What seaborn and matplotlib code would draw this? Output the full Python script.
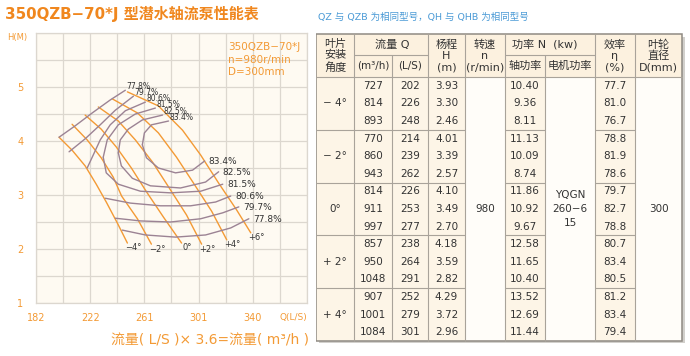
import numpy as np
import matplotlib
matplotlib.use("Agg")
import matplotlib.pyplot as plt
import matplotlib.patches as mpatches
import seaborn as sns

# head curves (Q in L/S, H in m), one per blade angle
angles = ["−4°", "−2°", "0°", "+2°", "+4°", "+6°"]
head_q = [
    [198.8, 208.3, 217.8, 225.9, 233.2, 241.3, 248.6],
    [208.3, 219.3, 229.5, 238.3, 244.4, 255.9, 266.1],
    [217.8, 229.5, 240.5, 251.5, 262.5, 274.9, 288.1],
    [227.4, 242.0, 254.4, 266.9, 278.6, 291.7, 302.7],
    [237.6, 255.9, 271.2, 284.4, 296.8, 310.0, 321.0],
    [248.6, 271.2, 288.8, 302.0, 315.1, 328.3, 338.5],
]
head_h = [
    [4.07, 3.83, 3.54, 3.20, 2.87, 2.48, 2.11],
    [4.31, 4.02, 3.69, 3.33, 2.98, 2.56, 2.09],
    [4.48, 4.22, 3.89, 3.50, 3.06, 2.59, 2.11],
    [4.63, 4.37, 4.02, 3.61, 3.15, 2.63, 2.09],
    [4.78, 4.52, 4.15, 3.70, 3.22, 2.70, 2.17],
    [4.91, 4.65, 4.20, 3.74, 3.22, 2.72, 2.30],
]

# efficiency contours: upper arm ends at the top label, lower arm at the right label
eff_labels = ["77.8%", "79.7%", "80.6%", "81.5%", "82.5%", "83.4%"]
eff_up_q = [
    [198.8, 210.5, 223.0, 236.1, 247.1],
    [206.1, 217.8, 228.8, 239.8, 253.0],
    [219.3, 223.7, 228.8, 236.1, 247.1, 261.7],
    [231.0, 233.9, 242.0, 254.4, 269.0],
    [242.0, 243.4, 249.3, 259.5, 274.2],
    [259.5, 261.0, 266.2, 278.6],
]
eff_up_h = [
    [4.07, 4.28, 4.52, 4.76, 4.94],
    [3.80, 4.04, 4.30, 4.57, 4.83],
    [3.50, 3.74, 4.02, 4.30, 4.56, 4.72],
    [3.70, 4.02, 4.30, 4.50, 4.61],
    [3.78, 4.02, 4.22, 4.39, 4.48],
    [3.93, 4.15, 4.30, 4.37],
]
eff_low_q = [
    [244.9, 261.7, 283.7, 305.6, 323.9, 337.1],
    [239.8, 258.1, 280.0, 302.0, 318.1, 329.8],
    [232.5, 250.8, 272.7, 294.7, 312.9, 323.9],
    [231.0, 233.2, 242.0, 258.1, 280.0, 302.0, 318.1],
    [242.0, 244.2, 252.2, 265.4, 287.3, 305.6, 315.1],
    [259.5, 262.5, 271.2, 283.7, 296.1, 304.9],
]
eff_low_h = [
    [2.35, 2.26, 2.22, 2.26, 2.39, 2.56],
    [2.57, 2.52, 2.50, 2.56, 2.67, 2.78],
    [2.94, 2.85, 2.80, 2.80, 2.87, 2.98],
    [3.70, 3.41, 3.20, 3.07, 3.04, 3.07, 3.20],
    [3.78, 3.54, 3.31, 3.17, 3.13, 3.24, 3.43],
    [3.93, 3.69, 3.50, 3.41, 3.46, 3.63],
]

x_tick_labels = ["182", "222", "261", "301", "340"]
y_tick_labels = ["1", "2", "3", "4", "5"]

# table values
angle_rows = ["− 4°", "− 2°", "0°", "+ 2°", "+ 4°"]
q_m3h = [727, 814, 893, 770, 860, 943, 814, 911, 997, 857, 950, 1048, 907, 1001, 1084]
q_ls = [202, 226, 248, 214, 239, 262, 226, 253, 277, 238, 264, 291, 252, 279, 301]
head_m = [3.93, 3.30, 2.46, 4.01, 3.39, 2.57, 4.10, 3.49, 2.70, 4.18, 3.59, 2.82, 4.29, 3.72, 2.96]
shaft_kw = [10.40, 9.36, 8.11, 11.13, 10.09, 8.74, 11.86, 10.92, 9.67, 12.58, 11.65, 10.40, 13.52, 12.69, 11.44]
eff_pct = [77.7, 81.0, 76.7, 78.8, 81.9, 78.6, 79.7, 82.7, 78.8, 80.7, 83.4, 80.5, 81.2, 83.4, 79.4]
speed = "980"
motor = "YQGN\n260−6\n15"
impeller = "300"

ORANGE = "#F39A35"
TITLE = "#F0871E"
PURPLE = "#9C8394"
GRID = "#DCD7CF"
NARROW = ["Liberation Sans Narrow", "DejaVu Sans"]

sns.set_theme(style="white")
plt.rcParams["font.family"] = ["DejaVu Sans", "Noto Sans CJK SC"]

fig = plt.figure(figsize=(6.9, 3.56), dpi=100)
ax = fig.add_axes([36 / 690, 53 / 356, 271 / 690, 270 / 356])
ax.set_facecolor("#FEFAF2")

step = 19.75
ax.set_xlim(182, 182 + 10 * step)
ax.set_ylim(1, 6)
ax.set_xticks([182 + k * step for k in range(11)])
ax.set_xticklabels([x_tick_labels[k // 2] if k % 2 == 0 and k < 10 else "" for k in range(11)])
ax.set_yticks(np.arange(1, 6.01, 0.5))
ax.set_yticklabels([y_tick_labels[int(v) - 1] if v == int(v) and v < 6 else "" for v in np.arange(1, 6.01, 0.5)])
ax.tick_params(length=0, colors=ORANGE, labelsize=7)
ax.tick_params(axis="x", pad=7)
ax.tick_params(axis="y", pad=9)
ax.grid(True, color=GRID, lw=0.9)
for s in ax.spines.values():
    s.set_color(GRID)
    s.set_linewidth(0.9)

for q, h, lab in zip(head_q, head_h, angles):
    sns.lineplot(x=q, y=h, sort=False, color=ORANGE, lw=1.0, ax=ax)
    ax.annotate(lab, (q[-1], h[-1]), xytext=(4, -3.5), textcoords="offset points",
                ha="center", va="center", fontsize=6, color="#333333", family=NARROW)

for i, lab in enumerate(eff_labels):
    sns.lineplot(x=eff_up_q[i], y=eff_up_h[i], sort=False, color=PURPLE, lw=1.0, ax=ax)
    sns.lineplot(x=eff_low_q[i], y=eff_low_h[i], sort=False, color=PURPLE, lw=1.0, ax=ax)
    ax.annotate(lab, (eff_up_q[i][-1], eff_up_h[i][-1]), xytext=(1, 2.5), textcoords="offset points",
                ha="left", va="center", fontsize=5.5, color="#333333", family=NARROW)
    ax.annotate(lab, (eff_low_q[i][-1], eff_low_h[i][-1]), xytext=(3, -0.5), textcoords="offset points",
                ha="left", va="center", fontsize=6.5, color="#333333", family=NARROW)

ax.text(-0.105, 0.985, "H(M)", transform=ax.transAxes, ha="left", va="center", fontsize=6, color=ORANGE)
ax.text(1.0, -0.052, "Q(L/S)", transform=ax.transAxes, ha="right", va="center", fontsize=6.5, color=ORANGE)
ax.text(0.71, 0.965, "350QZB−70*J\nn=980r/min\nD=300mm", transform=ax.transAxes, ha="left", va="top",
        fontsize=7.5, color=ORANGE, linespacing=1.3)

fig.text(5 / 690, 1 - 14 / 356, "350QZB−70*J 型潜水轴流泵性能表", ha="left", va="center",
         fontsize=10.8, fontweight="bold", color=TITLE)
fig.text(318 / 690, 1 - 17 / 356, "QZ 与 QZB 为相同型号，QH 与 QHB 为相同型号", ha="left", va="center",
         fontsize=6.8, color="#4A9AD6")
fig.text(210 / 690, 1 - 340 / 356, "流量( L/S )× 3.6=流量( m³/h )", ha="center", va="center",
         fontsize=10, color=ORANGE)

# table drawn in its own pixel-like coordinate frame
tab = fig.add_axes([316 / 690, 6 / 356, 370 / 690, 322 / 356])
tab.set_xlim(316, 686)
tab.set_ylim(350, 28)
tab.axis("off")

cx = [316, 354, 392, 428, 465, 505, 545, 595, 635, 682]
top, mid, hdr, bot = 34, 55, 77, 341
row_h = (bot - hdr) / len(q_m3h)
LINE = "#A9A39A"
TXT = "#333333"

tab.add_patch(mpatches.Rectangle((cx[0] + 2.5, top + 2.5), cx[-1] - cx[0], bot - top, color="#D2D0CC", lw=0))
tab.add_patch(mpatches.Rectangle((cx[0], top), cx[-1] - cx[0], bot - top, color="#FFFDF9", lw=0))
tab.add_patch(mpatches.Rectangle((cx[0], top), cx[-1] - cx[0], hdr - top, color="#FCF1DF", lw=0))
for c0, c1 in [(0, 4), (5, 6), (7, 8)]:
    tab.add_patch(mpatches.Rectangle((cx[c0], hdr), cx[c1] - cx[c0], bot - hdr, color="#FDF5E7", lw=0))

for i, x in enumerate(cx[1:-1], start=1):
    y0 = mid if i in (2, 6) else top
    tab.plot([x, x], [y0, bot], color=LINE, lw=0.8)
tab.plot([cx[1], cx[3]], [mid, mid], color=LINE, lw=0.8)
tab.plot([cx[5], cx[7]], [mid, mid], color=LINE, lw=0.8)
tab.plot([cx[0], cx[-1]], [hdr, hdr], color=LINE, lw=0.8)
for g in range(1, len(angle_rows)):
    y = hdr + g * 3 * row_h
    for c0, c1 in [(0, 4), (5, 6), (7, 8)]:
        tab.plot([cx[c0], cx[c1]], [y, y], color=LINE, lw=0.8)
tab.add_patch(mpatches.Rectangle((cx[0], top), cx[-1] - cx[0], bot - top, fill=False, ec="#8F8A83", lw=1.1))

def ccol(i):
    return (cx[i] + cx[i + 1]) / 2

hkw = dict(ha="center", va="center", fontsize=8, color=TXT, linespacing=1.12)
tab.text(ccol(0), 56, "叶片\n安装\n角度", **hkw)
tab.text(cx[2], 44.5, "流量 Q", **hkw)
tab.text(ccol(1), 66, "(m³/h)", ha="center", va="center", fontsize=7.5, color=TXT)
tab.text(ccol(2), 66, "(L/S)", ha="center", va="center", fontsize=7.5, color=TXT)
tab.text(ccol(3), 56, "杨程\nH\n(m)", **hkw)
tab.text(ccol(4), 56, "转速\nn\n(r/min)", **hkw)
tab.text(cx[6], 44.5, "功率 N  (kw)", **hkw)
tab.text(ccol(5), 66, "轴功率", **hkw)
tab.text(ccol(6), 66, "电机功率", **hkw)
tab.text(ccol(7), 56, "效率\nη\n(%)", **hkw)
tab.text(ccol(8), 56, "叶轮\n直径\nD(mm)", **hkw)

dkw = dict(ha="center", va="center", fontsize=7.5, color=TXT)
for r in range(len(q_m3h)):
    y = hdr + (r + 0.5) * row_h
    tab.text(ccol(1), y, str(q_m3h[r]), **dkw)
    tab.text(ccol(2), y, str(q_ls[r]), **dkw)
    tab.text(ccol(3), y, f"{head_m[r]:.2f}", **dkw)
    tab.text(ccol(5), y, f"{shaft_kw[r]:.2f}", **dkw)
    tab.text(ccol(7), y, f"{eff_pct[r]:.1f}", **dkw)
for g, lab in enumerate(angle_rows):
    tab.text(ccol(0), hdr + (g * 3 + 1.5) * row_h, lab, **dkw)
tab.text(ccol(4), (hdr + bot) / 2, speed, **dkw)
tab.text(ccol(6), (hdr + bot) / 2, motor, linespacing=1.5, **dkw)
tab.text(ccol(8), (hdr + bot) / 2, impeller, **dkw)

fig.savefig("out.png", dpi=100, facecolor="white")
